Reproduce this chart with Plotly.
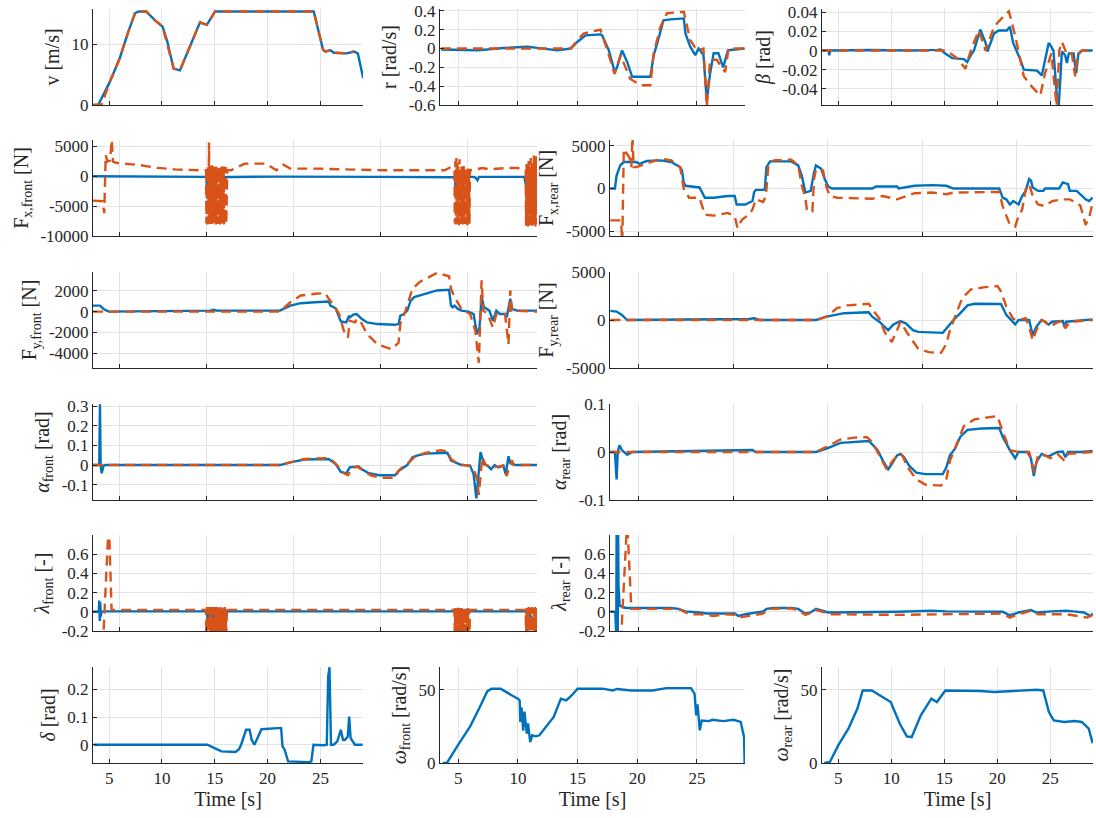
import plotly.graph_objects as go

# ================= DATA =================
# time axis ticks
time_ticks = [5, 10, 15, 20, 25]

# --- v [m/s]
v_t_b = [3.48, 3.96, 5.06, 6.0, 6.8, 7.44, 7.8, 8.5, 9.3, 10.06, 10.5, 11.1, 11.7, 12.5, 13.6, 13.9, 14.24, 15.03, 20.0, 24.37, 24.7, 25.25, 25.47, 25.95, 26.27, 27.5, 28.16, 28.54, 29.05]
v_b = [0, 0, 3.8, 7.7, 12.0, 15.1, 15.4, 15.4, 14.0, 12.9, 10.5, 6.0, 5.7, 9.0, 13.6, 13.4, 13.2, 15.4, 15.4, 15.4, 13.0, 9.1, 8.8, 9.0, 8.6, 8.5, 8.8, 8.5, 4.4]
v_t_o = [3.48, 4.3, 5.06, 6.0, 6.8, 7.44, 7.8, 8.5, 9.3, 10.06, 11.1, 11.7, 13.6, 14.24, 15.03, 20.0, 24.37, 25.25, 25.47, 25.95, 26.27, 27.5, 28.16]
v_o = [0, 0.1, 3.8, 7.7, 12.0, 15.1, 15.4, 15.4, 14.0, 12.9, 6.0, 5.7, 13.6, 13.2, 15.4, 15.4, 15.4, 9.1, 8.8, 9.0, 8.6, 8.5, 8.8]

# --- r [rad/s]
r_t_b = [3.55, 6.6, 8.8, 10.8, 13.3, 14.43, 14.97, 15.67, 16.92, 17.06, 17.62, 18.12, 18.31, 18.73, 19.15, 19.57, 21.1, 21.38, 21.66, 22.2, 22.77, 23.9, 24.04, 24.44, 24.86, 25.14, 25.55, 25.83, 26.1, 26.4, 26.8, 27.2, 27.6, 29.0]
r_b = [-0.01, -0.02, 0.005, 0.02, -0.02, 0.0, 0.07, 0.14, 0.15, 0.14, -0.02, -0.25, -0.2, -0.02, -0.14, -0.3, -0.3, -0.07, 0.05, 0.3, 0.31, 0.32, 0.16, 0.02, -0.07, 0.0, -0.07, -0.55, -0.27, -0.05, -0.05, -0.2, -0.02, 0.0]
r_t_o = [3.55, 14.41, 15.5, 16.92, 17.5, 18.1, 18.6, 19.4, 20.26, 21.1, 21.38, 21.94, 22.5, 23.9, 24.44, 25.0, 25.55, 25.83, 26.1, 26.66, 27.37, 27.65, 29.0]
r_o = [0, 0, 0.16, 0.2, -0.02, -0.27, -0.07, -0.32, -0.39, -0.39, -0.05, 0.23, 0.375, 0.39, 0.09, -0.02, 0, -0.62, -0.12, -0.12, -0.25, 0, 0]

# --- beta [rad]
b_t_b = [3.53, 4.1, 4.15, 4.25, 8.0, 12.0, 14.34, 14.65, 15.1, 15.75, 16.85, 17.16, 17.5, 17.8, 18.4, 18.9, 19.07, 19.7, 20.15, 20.9, 21.2, 21.5, 22.2, 22.5, 23.75, 24.2, 24.85, 25.0, 25.3, 25.6, 25.8, 26.1, 26.4, 26.57, 26.75, 27.2, 27.44, 27.66, 28.0, 29.0]
b_b = [0, 0, -0.005, 0, 0.0005, 0, 0.0007, 0.001, -0.003, -0.008, -0.009, -0.012, -0.005, 0, 0.022, 0.008, -0.001, 0.018, 0.021, 0.021, 0.025, 0.008, -0.01, -0.02, -0.021, -0.026, 0.008, 0.006, 0, -0.045, -0.058, -0.001, -0.005, -0.013, -0.003, -0.003, -0.024, -0.003, 0, 0]
b_t_o = [3.53, 15.0, 15.6, 16.2, 16.5, 17.0, 17.5, 18.26, 18.9, 19.7, 20.6, 21.1, 21.7, 22.5, 23.28, 24.06, 24.5, 25.1, 25.6, 25.85, 26.1, 26.57, 27.03, 27.35, 27.57, 27.97, 29.0]
b_o = [0, 0, -0.003, -0.008, -0.012, -0.019, 0, 0.021, 0, 0.025, 0.036, 0.041, 0.015, -0.027, -0.038, -0.047, -0.024, -0.003, -0.058, 0, 0.009, -0.004, -0.003, -0.027, -0.005, 0, 0]

# --- bursts (shared time stamps)
burst1_t = [10.00, 10.03, 10.06, 10.09, 10.12, 10.15, 10.18, 10.21, 10.24, 10.27, 10.30, 10.33, 10.36, 10.39, 10.42, 10.45, 10.48, 10.51, 10.54, 10.57, 10.60, 10.63, 10.66, 10.69, 10.72, 10.75, 10.78, 10.81, 10.84, 10.87, 10.90, 10.93, 10.96, 10.99, 11.02, 11.05, 11.08, 11.11, 11.14, 11.17, 11.20]
burst2_t = [24.30, 24.33, 24.36, 24.39, 24.42, 24.45, 24.48, 24.51, 24.54, 24.57, 24.60, 24.63, 24.66, 24.69, 24.72, 24.75, 24.78, 24.81, 24.84, 24.87, 24.90, 24.93, 24.96, 24.99, 25.02, 25.05, 25.08, 25.11, 25.14, 25.17, 25.20]
burst3_t = [28.40, 28.43, 28.46, 28.49, 28.52, 28.55, 28.58, 28.61, 28.64, 28.67, 28.70, 28.73, 28.76, 28.79, 28.82, 28.85, 28.88, 28.91, 28.94, 28.97, 29.00, 29.03]

# --- Fx,front [N]
fxf_t_b = [3.47, 10.0, 10.06, 10.1, 10.2, 11.2, 14.0, 20.0, 24.3, 24.36, 24.42, 24.5, 25.38, 25.5, 25.6, 25.7, 26.0, 28.3, 28.5, 28.6, 28.85, 28.9, 29.03]
fxf_b = [-50, -150, -3800, -150, -200, -150, -100, -150, -200, -3000, -200, -150, -150, -300, -700, -150, -150, -150, -3200, -200, -200, -3800, -4300]
fxf_t_o_a = [3.47, 3.95, 4.02, 4.12, 4.2, 4.3, 4.45, 4.55, 4.62, 4.8, 5.38, 6.19, 7.19, 8.2, 9.6, 9.98]
fxf_o_a = [-4100, -4100, -4200, -6200, 3500, 2400, 2600, 6000, 2400, 2200, 2070, 1800, 1350, 1100, 950, 950]
fxf_o_burst1 = [-7900, 1200, -8100, 1600, -7800, 5600, -8000, 1700, -7700, 1300, -8200, 1800, -7900, 1100, -8000, 1600, -7800, 1400, -8100, 1700, -7900, 1200, -8000, 1500, -7800, 1800, -8100, 1300, -7900, 1600, -8000, 1100, -7800, 1700, -8200, 1400, -7900, 1500, -8000, 900, 950]
fxf_t_o_b = [11.41, 12.2, 13.42, 14.03, 14.43, 14.83, 16.24, 18.25, 20.3, 23.7, 24.08, 24.28]
fxf_o_b = [950, 2070, 2070, 950, 1900, 1230, 1230, 1060, 950, 950, 1500, 1200]
fxf_o_burst2 = [-7900, 2500, -8100, 3000, -7800, 2200, -8000, 1500, -8200, 2800, -7900, 1000, -8000, 1800, -7700, 1200, -8100, 2000, -7900, 900, -8000, 1500, -7800, 1100, -8200, 1700, -7900, 800, -8000, 1200, 950]
fxf_t_o_c = [25.28, 25.88, 26.29, 27.29, 27.9, 28.3, 28.38]
fxf_o_c = [950, 1340, 1100, 1340, 1340, 950, 1000]
fxf_o_burst3 = [-8300, 2000, -8100, 1500, -8400, 2500, -7900, 1000, -8200, 3000, -8000, 1800, -8300, 2200, -7800, 3500, -8100, 2800, -8400, 3300, -8000, 2500]

# --- Fx,rear [N]
fxr_t_b = [3.49, 3.73, 3.82, 4.01, 4.2, 4.85, 5.04, 5.41, 6.16, 6.72, 7.18, 7.28, 7.37, 7.46, 8.21, 8.49, 8.96, 9.7, 10.07, 10.17, 10.63, 11.01, 11.1, 11.19, 11.66, 11.75, 11.94, 13.06, 13.43, 13.62, 13.81, 14.09, 14.27, 14.37, 14.65, 14.83, 15.02, 15.21, 17.35, 17.54, 18.66, 18.75, 19.59, 20.52, 21.27, 21.64, 24.07, 24.25, 24.44, 24.63, 24.81, 25.09, 25.28, 25.47, 25.65, 25.75, 25.84, 26.12, 26.4, 26.49, 27.24, 27.43, 27.71, 27.8, 28.17, 28.36, 28.64, 28.82, 29.01]
fxr_b = [0, 0, 1500, 2690, 3080, 3080, 2880, 3200, 3280, 3080, 2490, 2090, 710, 320, 120, -1070, -1070, -870, -870, -1860, -1860, -1460, -400, -160, -160, 2490, 3160, 3160, 2690, 1500, -470, -280, 1900, 2690, 2290, 1110, 240, 0, 0, 240, 240, 0, 320, 400, 320, 0, 0, -1070, -1260, -1860, -1460, -1860, -870, -280, 1110, 910, 120, -280, -280, 0, 0, 710, 510, -280, -280, -670, -1260, -1460, -1070]
fxr_t_o = [3.49, 4.05, 4.12, 4.2, 4.5, 4.6, 4.66, 4.72, 4.85, 5.6, 6.16, 6.72, 7.18, 7.37, 7.65, 8.21, 8.49, 8.96, 9.7, 10.07, 10.22, 10.45, 10.82, 11.01, 11.16, 11.19, 11.57, 11.72, 11.85, 12.13, 13.06, 13.43, 13.62, 13.81, 13.9, 14.18, 14.27, 14.37, 14.74, 14.93, 15.11, 15.49, 17.35, 17.91, 18.66, 19.59, 20.52, 21.27, 21.64, 24.07, 24.25, 24.63, 24.91, 25.09, 25.28, 25.47, 25.65, 25.84, 26.12, 26.49, 26.87, 27.43, 27.8, 28.36, 28.64, 28.82, 29.01]
fxr_o = [-3710, -3710, -6200, 4600, 3600, 2500, 6200, 2500, 2490, 3080, 3480, 3280, 2490, 0, -1070, -1070, -3040, -3160, -2840, -3240, -4620, -3630, -3040, -2450, -1460, -1260, -1580, -870, 2690, 3280, 3360, 2690, 320, -1070, -2650, -2650, 1110, 2290, 2090, 120, -870, -1070, -1190, -870, -1260, -550, -470, -670, -470, -400, -2050, -4230, -4420, -3240, -2450, -80, 510, -870, -1860, -2050, -1460, -1260, -1260, -1980, -4230, -3440, -1660]

# --- Fy,front [N]
fyf_t_b = [3.47, 3.87, 4.08, 4.38, 10.21, 10.41, 10.61, 14.23, 14.83, 15.43, 16.24, 17.04, 17.14, 17.44, 17.64, 17.74, 18.05, 18.21, 18.25, 18.45, 18.65, 18.75, 18.95, 19.25, 19.85, 20.86, 21.06, 21.16, 21.36, 21.56, 21.76, 21.96, 22.47, 23.27, 23.97, 24.08, 24.18, 24.28, 24.48, 24.68, 25.08, 25.38, 25.58, 25.72, 25.84, 25.98, 26.29, 26.49, 26.69, 26.89, 27.19, 27.29, 27.49, 27.59, 27.89, 29.04]
fyf_b = [580, 580, 260, 0, 100, 190, 100, 100, 580, 810, 900, 970, 580, 320, -550, -940, -1030, -390, -550, -290, -230, -390, -710, -1030, -1190, -1260, -1190, -390, -230, 100, 1060, 1390, 1650, 2030, 2100, 580, 420, 580, 260, 100, 0, -230, -2160, -1520, 1390, 420, 100, -870, 100, -230, -230, -550, 1230, 260, 100, 100]
fyf_t_o = [3.47, 14.23, 14.83, 15.43, 16.24, 16.84, 17.04, 17.34, 17.64, 17.94, 18.15, 18.25, 18.55, 18.65, 18.85, 19.25, 19.85, 20.66, 21.06, 21.16, 21.46, 21.86, 22.27, 23.27, 23.97, 24.08, 24.28, 24.68, 25.18, 25.48, 25.68, 25.78, 25.84, 25.94, 26.19, 26.49, 26.69, 27.19, 27.39, 27.49, 27.59, 29.04]
fyf_o = [0, 0, 900, 1550, 1710, 1770, 1230, 580, -230, -2000, -2480, -870, -1030, -710, -870, -2160, -3130, -3610, -2970, -1190, 100, 2190, 2840, 3710, 3390, 2190, 1390, 260, -230, -1840, -4900, -550, 3000, 100, -230, -1520, -230, -230, -3130, 2030, 100, 0]

# --- Fy,rear [N]
fyr_t_b = [3.49, 3.82, 4.10, 4.38, 10.82, 11.1, 11.38, 14.37, 14.93, 15.86, 16.79, 17.16, 17.35, 17.72, 18.19, 18.47, 18.84, 19.12, 19.5, 19.78, 21.08, 21.27, 21.46, 21.73, 22.01, 22.39, 22.76, 23.88, 24.16, 24.44, 24.91, 25.09, 25.65, 25.84, 26.03, 26.31, 26.49, 26.68, 26.87, 27.43, 27.52, 27.61, 29.01]
fyr_b = [950, 880, 530, 0, 100, 180, 0, 0, 350, 710, 780, 810, 350, -180, -1060, -460, -110, -350, -1060, -1240, -1340, -880, -350, 180, 710, 1520, 1690, 1690, 1660, 530, -460, 0, 0, -1590, -710, 0, -180, -460, -180, -110, -710, -180, 70]
fyr_t_o = [3.49, 14.37, 14.93, 15.49, 16.04, 16.79, 17.16, 17.44, 17.72, 18.0, 18.38, 18.66, 18.84, 19.22, 19.78, 20.34, 20.99, 21.27, 21.46, 21.73, 22.11, 22.57, 23.32, 23.97, 24.16, 24.44, 24.81, 25.09, 25.47, 25.65, 25.84, 26.03, 26.31, 26.49, 26.77, 27.05, 27.43, 27.57, 27.8, 29.01]
fyr_o = [0, 0, 350, 1240, 1520, 1660, 1690, 880, 180, -1240, -2300, -1060, -180, -1410, -3000, -3350, -3420, -2470, -1060, 350, 2290, 3180, 3420, 3530, 3000, 1410, 100, 0, 180, -710, -2120, -1060, 0, -180, -710, -350, 0, -880, -180, 0]

# --- alpha_front [rad]
af_t_b = [3.47, 3.83, 3.87, 3.91, 3.97, 4.08, 4.18, 14.23, 14.83, 15.63, 17.04, 17.44, 17.74, 18.05, 18.25, 18.75, 18.95, 19.35, 19.95, 20.86, 21.06, 21.26, 21.56, 21.86, 22.17, 22.67, 23.87, 24.08, 24.28, 24.68, 25.18, 25.38, 25.54, 25.68, 25.78, 25.98, 26.18, 26.39, 26.59, 26.79, 27.09, 27.23, 27.39, 27.49, 27.79, 29.04]
af_b = [0, 0, 0.31, 0, -0.042, -0.003, 0, 0, 0.014, 0.028, 0.031, 0.005, -0.035, -0.042, -0.012, -0.007, -0.021, -0.042, -0.052, -0.052, -0.03, -0.017, 0, 0.04, 0.049, 0.058, 0.063, 0.023, 0.014, 0, -0.003, -0.047, -0.17, -0.038, 0.066, 0.005, -0.003, -0.021, 0, -0.012, -0.003, -0.047, 0.045, 0.01, 0, 0]
af_t_o = [3.47, 14.23, 14.83, 15.63, 16.84, 17.24, 17.54, 17.84, 18.15, 18.35, 18.65, 19.05, 19.45, 20.06, 20.86, 21.06, 21.26, 21.66, 22.07, 22.67, 23.47, 23.87, 24.08, 24.48, 25.08, 25.38, 25.58, 25.68, 25.78, 25.88, 26.08, 26.49, 27.09, 27.29, 27.45, 27.59, 27.69, 29.04]
af_o = [0, 0, 0.014, 0.031, 0.035, 0.023, -0.003, -0.038, -0.052, -0.021, -0.007, -0.03, -0.052, -0.065, -0.065, -0.03, -0.012, 0.014, 0.049, 0.063, 0.075, 0.07, 0.031, 0.005, -0.003, -0.017, -0.073, -0.152, -0.03, 0.04, 0, -0.012, -0.003, -0.056, -0.003, 0.023, 0, 0]

# --- alpha_rear [rad]
ar_t_b = [3.49, 3.73, 3.82, 3.88, 3.97, 4.1, 4.38, 4.66, 11.01, 11.19, 14.37, 14.93, 15.67, 16.42, 17.16, 17.35, 17.63, 17.91, 18.19, 18.38, 18.66, 18.84, 19.03, 19.31, 19.68, 20.15, 21.08, 21.27, 21.46, 21.73, 22.01, 22.39, 23.13, 24.07, 24.25, 24.63, 24.91, 25.09, 25.56, 25.75, 25.9, 26.03, 26.31, 26.49, 26.68, 27.15, 27.43, 27.57, 27.71, 28.36, 29.01]
ar_b = [0, 0, -0.057, 0, 0.014, 0.004, -0.006, 0, 0.004, 0, 0, 0.007, 0.019, 0.021, 0.023, 0.016, 0.004, -0.018, -0.036, -0.025, -0.007, -0.004, -0.011, -0.029, -0.043, -0.046, -0.046, -0.032, -0.007, 0.007, 0.032, 0.046, 0.049, 0.05, 0.032, 0.004, -0.013, 0, 0, -0.014, -0.05, -0.021, -0.004, -0.007, -0.009, 0, 0.001, -0.011, 0, 0, 0.002]
ar_t_o = [3.49, 14.37, 14.93, 15.67, 16.42, 17.07, 17.35, 17.63, 17.91, 18.13, 18.38, 18.75, 18.94, 19.22, 19.68, 20.15, 20.99, 21.27, 21.46, 21.73, 22.2, 22.76, 23.51, 23.97, 24.25, 24.63, 25.09, 25.65, 25.93, 26.12, 26.49, 26.77, 27.15, 27.52, 27.71, 29.01]
ar_o = [0, 0, 0.011, 0.026, 0.03, 0.031, 0.021, 0, -0.021, -0.037, -0.021, -0.004, -0.007, -0.032, -0.057, -0.068, -0.07, -0.056, -0.018, 0.007, 0.054, 0.068, 0.073, 0.075, 0.043, 0.004, 0, 0, -0.043, -0.007, -0.007, -0.013, -0.004, -0.018, -0.004, 0]

# --- lambda_front [-]
lf_t_b_a = [3.47, 3.8, 3.83, 3.86, 3.89, 3.92, 3.95, 4.2, 9.98]
lf_b_a = [0, 0, 0.117, -0.096, 0.1, -0.05, 0, 0.004, 0.004]
lf_t_b_burst1 = [10.0, 10.1, 10.2, 10.3, 10.4, 10.5, 10.6, 10.7, 10.8, 10.9, 11.0, 11.1, 11.2]
lf_b_burst1 = [0.004, -0.1, 0.04, -0.15, 0.03, -0.08, 0.04, -0.17, 0.03, -0.1, 0.04, -0.12, 0.004]
lf_t_b_burst2 = [24.3, 24.4, 24.5, 24.6, 24.7, 24.8, 24.9, 25.0, 25.1, 25.2]
lf_b_burst2 = [0.004, -0.08, 0.04, -0.12, 0.03, -0.06, 0.03, -0.1, 0.02, 0.004]
lf_t_b_c = [28.35, 28.5, 28.7, 28.9, 29.04]
lf_b_c = [0.004, -0.02, -0.05, -0.1, -0.2]
lf_t_o_a = [3.95, 4.08, 4.38, 4.54, 4.6, 9.98]
lf_o_a = [-0.35, -0.2, 0.95, 0.02, 0.02, 0.02]
lf_o_burst1 = [-0.30, 0.05, -0.28, 0.04, -0.30, 0.05, -0.27, 0.03, -0.30, 0.05, -0.29, 0.04, -0.30, 0.05, -0.28, 0.03, -0.30, 0.05, -0.27, 0.04, -0.30, 0.05, -0.29, 0.03, -0.30, 0.04, -0.28, 0.05, -0.30, 0.03, -0.27, 0.05, -0.30, 0.04, -0.29, 0.05, -0.30, 0.03, -0.28, 0.04, 0.02]
lf_t_o_b = [11.41, 24.28]
lf_o_b = [0.02, 0.02]
lf_o_burst2 = [-0.30, 0.04, -0.28, 0.03, -0.30, 0.04, -0.27, 0.02, -0.30, 0.04, -0.29, 0.03, -0.30, 0.04, -0.28, 0.02, -0.30, 0.03, -0.27, 0.04, -0.30, 0.03, -0.29, 0.02, -0.30, 0.04, -0.28, 0.03, -0.30, 0.02, 0.02]
lf_t_o_c = [25.28, 28.38]
lf_o_c = [0.02, 0.02]
lf_o_burst3 = [-0.30, 0.04, -0.28, 0.03, -0.30, 0.05, -0.27, 0.04, -0.30, 0.03, -0.29, 0.05, -0.30, 0.04, -0.28, 0.03, -0.30, 0.05, -0.27, 0.04, -0.30, 0.04]

# --- lambda_rear [-]
lr_t_b = [3.49, 3.75, 3.8, 3.82, 3.84, 3.86, 3.88, 3.9, 3.92, 3.98, 4.3, 5.6, 6.7, 7.1, 7.46, 8.21, 8.58, 10.07, 10.26, 10.63, 11.1, 11.57, 11.75, 12.13, 13.06, 13.43, 13.8, 14.09, 14.37, 14.74, 15.02, 18.66, 20.52, 21.27, 24.25, 24.63, 25.09, 25.75, 26.03, 26.87, 27.61, 27.98, 28.54, 28.9, 29.01]
lr_b = [0, 0, -0.25, 0.85, -0.25, 0.85, -0.2, 0.85, 0.26, 0.064, 0.04, 0.04, 0.04, 0.03, 0.004, -0.007, -0.018, -0.018, -0.043, -0.025, -0.007, 0.004, 0.03, 0.04, 0.04, 0.03, -0.018, -0.007, 0.03, 0.011, -0.007, 0, 0.011, 0.004, 0, -0.036, -0.007, 0.018, -0.007, 0.004, 0.011, 0.004, -0.007, -0.043, -0.018]
lr_t_o = [4.05, 4.38, 4.6, 4.85, 7.1, 7.65, 8.21, 8.96, 9.52, 10.07, 10.26, 10.82, 11.57, 11.85, 13.06, 13.43, 13.81, 14.18, 14.37, 14.74, 15.02, 18.66, 24.25, 24.63, 25.09, 25.75, 26.12, 27.61, 28.72, 29.01]
lr_o = [-0.3, 0.95, 0.03, 0.03, 0.03, -0.025, -0.025, -0.043, -0.025, -0.032, -0.06, -0.043, -0.018, 0.03, 0.036, 0.018, -0.032, -0.007, 0.018, 0, -0.025, -0.032, -0.018, -0.06, -0.025, 0.011, -0.025, -0.025, -0.06, -0.032]

# --- delta [rad]
d_t = [3.54, 14.3, 14.97, 15.63, 16.96, 17.29, 17.49, 17.76, 17.96, 18.29, 18.49, 18.75, 19.09, 19.42, 20.95, 21.28, 21.41, 21.61, 21.94, 23.94, 24.14, 24.34, 25.27, 25.6, 25.73, 25.86, 26.0, 26.26, 26.6, 26.93, 27.13, 27.33, 27.59, 27.72, 27.86, 28.26, 29.0]
d_v = [0, 0, -0.012, -0.024, -0.026, -0.016, 0, 0.03, 0.054, 0.054, 0.018, 0, 0.03, 0.056, 0.06, 0.06, -0.006, -0.018, -0.06, -0.063, -0.06, 0, -0.002, 0, 0.245, 0.28, 0, 0, 0.012, 0.054, 0.018, 0.018, 0.03, 0.102, 0.024, 0, 0]

# --- omega_front [rad/s]
wf_t = [3.7, 4.05, 5.0, 6.0, 6.8, 7.44, 7.8, 8.55, 9.73, 10.0, 10.15, 10.2, 10.3, 10.44, 10.55, 10.74, 10.85, 11.03, 11.2, 11.5, 11.8, 13.0, 13.6, 14.05, 14.5, 15.0, 17.07, 17.95, 18.3, 19.5, 21.27, 22.45, 24.5, 24.8, 24.94, 25.05, 25.24, 25.4, 26.0, 26.3, 27.2, 28.07, 28.67, 28.85, 28.95, 29.0]
wf_v = [0, 0, 12.5, 25, 38, 49, 50.7, 50.7, 45, 43.9, 42.7, 28, 38, 22, 35, 20, 27, 14.3, 18.9, 18.2, 18.9, 31.4, 43.9, 42.7, 46.1, 50.7, 50.7, 49.5, 50.5, 49.5, 49.5, 51.1, 51.1, 47.3, 32.5, 40, 22.3, 29, 28.6, 29.5, 28.6, 29.5, 28, 22.3, 17.7, 0]

# --- omega_rear [rad/s]
wr_t = [3.68, 4.21, 5.0, 6.0, 6.8, 7.31, 8.17, 9.95, 10.81, 11.47, 11.93, 12.79, 13.78, 14.31, 15.1, 17.08, 18.4, 19.72, 21.04, 23.68, 24.34, 24.87, 25.33, 26.32, 27.31, 27.97, 28.63, 29.0]
wr_v = [0, 0.7, 12, 24, 37, 49.5, 49.5, 41.6, 26.8, 18.2, 17.7, 32.5, 43.9, 41.6, 49.5, 49.5, 49.1, 48.4, 49.1, 50, 49.5, 34.8, 29.1, 28, 28.6, 28, 23.4, 13.6]

# ================= FIGURE =================
BLUE = "#0072BD"
ORANGE = "#D95319"
FONT = "Liberation Serif"
TXT = "#262626"
GRID = "#e3e3e3"
W, H = 1096, 818
TICK_SIZE = 17
TITLE_SIZE = 20

cols3 = [(93, 363), (440, 745), (822, 1093)]
cols2 = [(93, 537), (610, 1093)]
rows = [(9, 105), (140, 236), (272, 368), (404, 500), (535, 631), (667, 763)]


def ticks(vals, txt):
    return dict(tickvals=vals, ticktext=txt)


panels = [
    dict(col=cols3[0], row=0, yr=[0, 15.8], yt=ticks([0, 10], ["0", "10"]), title="v [m/s]",
         blue=(v_t_b, v_b), orange=(v_t_o, v_o)),
    dict(col=cols3[1], row=0, yr=[-0.6, 0.42],
         yt=ticks([-0.6, -0.4, -0.2, 0, 0.2, 0.4], ["-0.6", "-0.4", "-0.2", "0", "0.2", "0.4"]),
         title="r [rad/s]", blue=(r_t_b, r_b), orange=(r_t_o, r_o)),
    dict(col=cols3[2], row=0, yr=[-0.057, 0.0435],
         yt=ticks([-0.04, -0.02, 0, 0.02, 0.04], ["-0.04", "-0.02", "0", "0.02", "0.04"]),
         title="<i>β</i> [rad]", blue=(b_t_b, b_b), orange=(b_t_o, b_o)),
    dict(col=cols2[0], row=1, yr=[-10000, 6000],
         yt=ticks([-10000, -5000, 0, 5000], ["-10000", "-5000", "0", "5000"]),
         title="F<sub>x,front</sub> [N]", blue=(fxf_t_b, fxf_b),
         orange=(fxf_t_o_a + burst1_t + fxf_t_o_b + burst2_t + fxf_t_o_c + burst3_t,
                 fxf_o_a + fxf_o_burst1 + fxf_o_b + fxf_o_burst2 + fxf_o_c + fxf_o_burst3)),
    dict(col=cols2[1], row=1, yr=[-5530, 5650],
         yt=ticks([-5000, 0, 5000], ["-5000", "0", "5000"]),
         title="F<sub>x,rear</sub> [N]", blue=(fxr_t_b, fxr_b), orange=(fxr_t_o, fxr_o)),
    dict(col=cols2[0], row=2, yr=[-5400, 3800],
         yt=ticks([-4000, -2000, 0, 2000], ["-4000", "-2000", "0", "2000"]),
         title="F<sub>y,front</sub> [N]", blue=(fyf_t_b, fyf_b), orange=(fyf_t_o, fyf_o)),
    dict(col=cols2[1], row=2, yr=[-5000, 5000],
         yt=ticks([-5000, 0, 5000], ["-5000", "0", "5000"]),
         title="F<sub>y,rear</sub> [N]", blue=(fyr_t_b, fyr_b), orange=(fyr_t_o, fyr_o)),
    dict(col=cols2[0], row=3, yr=[-0.178, 0.311],
         yt=ticks([-0.1, 0, 0.1, 0.2, 0.3], ["-0.1", "0", "0.1", "0.2", "0.3"]),
         title="<i>α</i><sub>front</sub> [rad]", blue=(af_t_b, af_b), orange=(af_t_o, af_o)),
    dict(col=cols2[1], row=3, yr=[-0.1, 0.1],
         yt=ticks([-0.1, 0, 0.1], ["-0.1", "0", "0.1"]),
         title="<i>α</i><sub>rear</sub> [rad]", blue=(ar_t_b, ar_b), orange=(ar_t_o, ar_o)),
    dict(col=cols2[0], row=4, yr=[-0.2, 0.8],
         yt=ticks([-0.2, 0, 0.2, 0.4, 0.6], ["-0.2", "0", "0.2", "0.4", "0.6"]),
         title="<i>λ</i><sub>front</sub> [-]",
         blue=(lf_t_b_a + lf_t_b_burst1 + lf_t_b_burst2 + lf_t_b_c, lf_b_a + lf_b_burst1 + lf_b_burst2 + lf_b_c),
         orange=(lf_t_o_a + burst1_t + lf_t_o_b + burst2_t + lf_t_o_c + burst3_t,
                 lf_o_a + lf_o_burst1 + lf_o_b + lf_o_burst2 + lf_o_c + lf_o_burst3)),
    dict(col=cols2[1], row=4, yr=[-0.2, 0.8],
         yt=ticks([-0.2, 0, 0.2, 0.4, 0.6], ["-0.2", "0", "0.2", "0.4", "0.6"]),
         title="<i>λ</i><sub>rear</sub> [-]", blue=(lr_t_b, lr_b), orange=(lr_t_o, lr_o)),
    dict(col=cols3[0], row=5, yr=[-0.066, 0.281],
         yt=ticks([0, 0.1, 0.2], ["0", "0.1", "0.2"]),
         title="<i>δ</i> [rad]", blue=(d_t, d_v), orange=None),
    dict(col=cols3[1], row=5, yr=[0, 65.5], yt=ticks([0, 50], ["0", "50"]),
         title="<i>ω</i><sub>front</sub> [rad/s]", blue=(wf_t, wf_v), orange=None),
    dict(col=cols3[2], row=5, yr=[0, 65.5], yt=ticks([0, 50], ["0", "50"]),
         title="<i>ω</i><sub>rear</sub> [rad/s]", blue=(wr_t, wr_v), orange=None),
]

fig = go.Figure()
layout = dict(
    width=W, height=H, margin=dict(l=0, r=0, t=0, b=0),
    paper_bgcolor="white", plot_bgcolor="white", showlegend=False,
    template="none", font=dict(family=FONT, color=TXT, size=TICK_SIZE),
)

for i, p in enumerate(panels, start=1):
    sx = "" if i == 1 else str(i)
    xa, ya = "x" + sx, "y" + sx
    x0, x1 = p["col"]
    y0, y1 = rows[p["row"]]
    bottom = p["row"] == 5
    xaxis = dict(
        domain=[x0 / W, x1 / W], anchor=ya, range=[3.47, 29.03],
        tickvals=time_ticks, ticktext=[str(t) for t in time_ticks],
        showticklabels=bottom, ticks="inside", ticklen=4, tickcolor=TXT,
        showline=True, linecolor=TXT, linewidth=1, mirror=False,
        showgrid=True, gridcolor=GRID, gridwidth=1, zeroline=False,
        tickfont=dict(family=FONT, size=TICK_SIZE, color=TXT),
        automargin=False,
    )
    if bottom:
        xaxis["title"] = dict(text="Time [s]", font=dict(family=FONT, size=TITLE_SIZE, color=TXT), standoff=4)
    layout["xaxis" + sx] = xaxis
    layout["yaxis" + sx] = dict(
        domain=[1 - y1 / H, 1 - y0 / H], anchor=xa, range=p["yr"],
        tickvals=p["yt"]["tickvals"], ticktext=p["yt"]["ticktext"],
        ticks="inside", ticklen=4, tickcolor=TXT,
        showline=True, linecolor=TXT, linewidth=1, mirror=False,
        showgrid=True, gridcolor=GRID, gridwidth=1, zeroline=False,
        tickfont=dict(family=FONT, size=TICK_SIZE, color=TXT),
        automargin=False,
        title=dict(text=p["title"], font=dict(family=FONT, size=TITLE_SIZE, color=TXT), standoff=6),
    )
    bt, bv = p["blue"]
    fig.add_trace(go.Scatter(x=bt, y=bv, mode="lines", xaxis=xa, yaxis=ya,
                             line=dict(color=BLUE, width=2.4), hoverinfo="skip"))
    if p["orange"] is not None:
        ot, ov = p["orange"]
        fig.add_trace(go.Scatter(x=ot, y=ov, mode="lines", xaxis=xa, yaxis=ya,
                                 line=dict(color=ORANGE, width=2.4, dash="10px,6px"), hoverinfo="skip"))

fig.update_layout(**layout)
fig.write_html("out.html", config={"displayModeBar": False, "staticPlot": True},
               post_script="document.body.style.margin='0px';document.body.style.overflow='hidden';")
